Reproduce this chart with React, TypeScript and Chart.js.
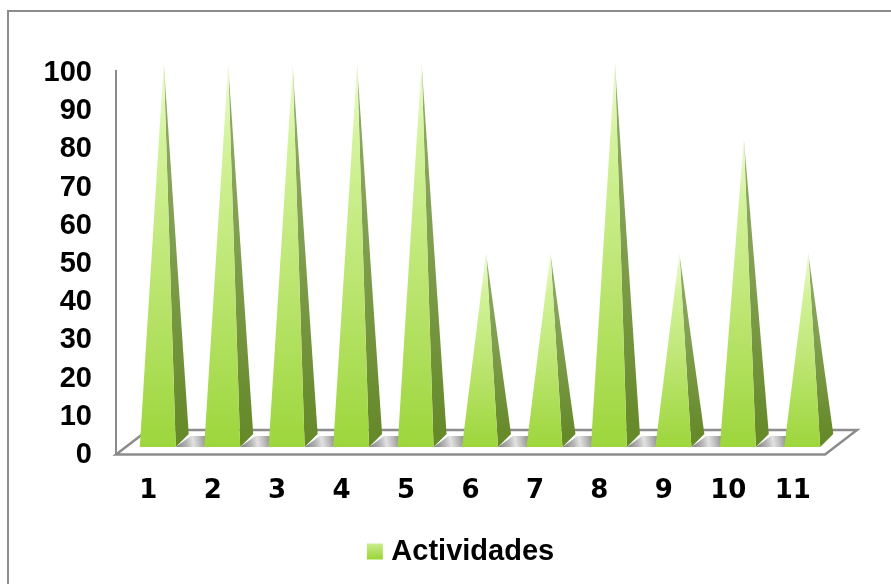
import React, { useEffect, useRef } from "react";
import { Chart, registerables } from "chart.js";

Chart.register(...registerables);

// Series values and axis labels
const categories = ["1", "2", "3", "4", "5", "6", "7", "8", "9", "10", "11"];
const actividades = [100, 99.5, 99, 99.5, 100, 50, 50, 100, 50, 80, 50];
const yTicks = [0, 10, 20, 30, 40, 50, 60, 70, 80, 90, 100];
const seriesName = "Actividades";

const GRAY = "#8c8c8c";

// Pyramid projection, in pixels relative to the category centre and the zero line
const FRONT_LEFT = -8.5;
const FRONT_RIGHT = 27.5;
const SIDE_RIGHT = 40.5;
const APEX_DX = 15.5;
const APEX_DY = -9;
const FRONT_Y = -6;
const SIDE_Y = -19;

// Floor depth of the box the pyramids stand on
const DEPTH_X = 32;
const DEPTH_Y = -23;

const framePlugin = {
  id: "frame",
  beforeDraw(chart: any) {
    const { ctx, width, height } = chart;
    ctx.save();
    ctx.fillStyle = "#ffffff";
    ctx.fillRect(0, 0, width, height);
    ctx.fillStyle = GRAY;
    ctx.fillRect(7, 10, width - 7, 2);
    ctx.fillRect(7, 10, 2, height - 10);
    ctx.restore();
  },
};

// Moves the legend so it centres under the plot rather than under the canvas
const legendOffsetPlugin = {
  id: "legendOffset",
  afterLayout(chart: any) {
    chart.legend.left += 41;
    chart.legend.right += 41;
  },
};

const floorPlugin = {
  id: "floor",
  beforeDatasetsDraw(chart: any) {
    const { ctx, scales } = chart;
    const xs = scales.x;
    const y0 = scales.y.getPixelForValue(0);
    const meta = chart.getDatasetMeta(0);
    ctx.save();

    // Shaded floor visible in the gaps between pyramids
    for (let i = 0; i < meta.data.length - 1; i++) {
      const c = meta.data[i].x;
      const next = meta.data[i + 1].x;
      const grad = ctx.createLinearGradient(c + FRONT_RIGHT, y0 + FRONT_Y, c + FRONT_RIGHT + 32, y0 + SIDE_Y + 8);
      grad.addColorStop(0, "#7f7f7f");
      grad.addColorStop(0.35, "#b5b5b5");
      grad.addColorStop(0.55, "#e2e2e2");
      grad.addColorStop(0.75, "#bdbdbd");
      grad.addColorStop(1, "#8a8a8a");
      ctx.fillStyle = grad;
      ctx.beginPath();
      ctx.moveTo(c + FRONT_RIGHT, y0 + FRONT_Y);
      ctx.lineTo(c + SIDE_RIGHT + 2, y0 + SIDE_Y + 2);
      ctx.lineTo(next + FRONT_LEFT + 12, y0 + SIDE_Y + 2);
      ctx.lineTo(next + FRONT_LEFT, y0 + FRONT_Y);
      ctx.closePath();
      ctx.fill();
    }

    // Floor outline
    ctx.strokeStyle = GRAY;
    ctx.lineWidth = 2.5;
    ctx.lineJoin = "miter";
    ctx.beginPath();
    ctx.moveTo(xs.left, y0 + 1.5);
    ctx.lineTo(xs.left + DEPTH_X, y0 + DEPTH_Y);
    ctx.lineTo(xs.right + DEPTH_X, y0 + DEPTH_Y);
    ctx.lineTo(xs.right, y0 + 1.5);
    ctx.closePath();
    ctx.stroke();
    ctx.restore();
  },
};

const pyramidPlugin = {
  id: "pyramids",
  afterDatasetsDraw(chart: any) {
    const { ctx } = chart;
    const meta = chart.getDatasetMeta(0);
    ctx.save();
    meta.data.forEach((bar: any) => {
      const c = bar.x;
      const apexY = bar.y + APEX_DY;
      const frontY = bar.base + FRONT_Y;
      const sideY = bar.base + SIDE_Y;
      const apexX = c + APEX_DX;

      const side = ctx.createLinearGradient(0, apexY, 0, sideY);
      side.addColorStop(0, "#c5d3aa");
      side.addColorStop(0.12, "#8ea864");
      side.addColorStop(0.5, "#7f9e4e");
      side.addColorStop(1, "#66892a");
      ctx.fillStyle = side;
      ctx.beginPath();
      ctx.moveTo(c + FRONT_RIGHT, frontY);
      ctx.lineTo(c + SIDE_RIGHT, sideY);
      ctx.lineTo(apexX, apexY);
      ctx.closePath();
      ctx.fill();

      const front = ctx.createLinearGradient(0, apexY, 0, frontY);
      front.addColorStop(0, "#f0fcd8");
      front.addColorStop(0.2, "#d3f39b");
      front.addColorStop(0.55, "#bde673");
      front.addColorStop(1, "#9dd63c");
      ctx.fillStyle = front;
      ctx.beginPath();
      ctx.moveTo(c + FRONT_LEFT, frontY);
      ctx.lineTo(c + FRONT_RIGHT, frontY);
      ctx.lineTo(apexX, apexY);
      ctx.closePath();
      ctx.fill();
    });
    ctx.restore();
  },
};

export default function App() {
  const canvasRef = useRef<HTMLCanvasElement | null>(null);

  useEffect(() => {
    if (!canvasRef.current) return;
    const chart = new Chart(canvasRef.current, {
      type: "bar",
      data: {
        labels: categories,
        datasets: [
          {
            label: seriesName,
            data: actividades,
            backgroundColor: "rgba(0,0,0,0)",
            borderWidth: 0,
            categoryPercentage: 1,
            barPercentage: 0.56,
          },
        ],
      },
      options: {
        animation: false,
        responsive: false,
        layout: { padding: { left: 20, right: 66, top: 71, bottom: 8 } },
        plugins: {
          tooltip: { enabled: false },
          legend: {
            position: "bottom",
            labels: {
              font: { family: "'Liberation Sans'", weight: "bold", size: 29 },
              color: "#000000",
              boxWidth: 4,
              boxHeight: 4,
              padding: 8,
              generateLabels(c: any) {
                const grad = c.ctx.createLinearGradient(0, 542, 0, 558);
                grad.addColorStop(0, "#cfef96");
                grad.addColorStop(1, "#9dd63c");
                return [
                  {
                    text: seriesName,
                    fillStyle: grad,
                    strokeStyle: grad,
                    lineWidth: 12,
                    datasetIndex: 0,
                  },
                ];
              },
            },
          },
        },
        scales: {
          x: {
            grid: { display: false },
            border: { display: false },
            ticks: {
              color: "#000000",
              font: { family: "'DejaVu Sans'", weight: "bold", size: 26 },
              padding: 15,
              maxRotation: 0,
              autoSkip: false,
            },
            afterFit(scale: any) {
              scale.height = 76;
            },
          },
          y: {
            min: 0,
            max: 100,
            grid: { display: false },
            border: { display: true, color: GRAY, width: 2 },
            afterFit(scale: any) {
              scale.width = 96;
            },
            afterBuildTicks(scale: any) {
              scale.ticks = yTicks.map((value) => ({ value }));
            },
            ticks: {
              color: "#000000",
              font: { family: "'Liberation Sans'", weight: "bold", size: 29 },
              padding: 16,
              labelOffset: 2,
              autoSkip: false,
            },
          },
        },
      },
      plugins: [framePlugin, legendOffsetPlugin, floorPlugin, pyramidPlugin],
    } as any);
    return () => chart.destroy();
  }, []);

  return (
    <div style={{ position: "fixed", left: 0, top: 0, width: 891, height: 584 }}>
      <canvas ref={canvasRef} width={891} height={584} style={{ display: "block" }} />
    </div>
  );
}
